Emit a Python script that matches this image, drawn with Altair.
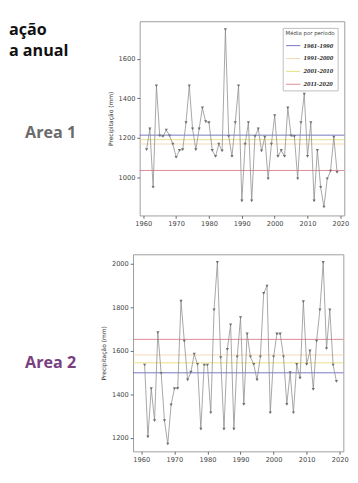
import altair as alt
import pandas as pd

years = list(range(1961, 2020))
area1 = [1140, 1245, 949, 1463, 1210, 1207, 1239, 1210, 1167, 1101,
         1136, 1140, 1276, 1463, 1245, 1140, 1245, 1351, 1281, 1276,
         1136, 1105, 1167, 1133, 1748, 1207, 1105, 1276, 1463, 880,
         1167, 1276, 880, 1207, 1245, 1133, 1203, 992, 1167, 1312,
         1105, 1136, 1105, 1351, 1210, 1207, 992, 1276, 1421, 1105,
         1276, 880, 1136, 949, 849, 992, 1031, 1203, 1024]
area2 = [1535, 1204, 1426, 1279, 1684, 1497, 1279, 1171, 1351, 1426,
         1427, 1829, 1645, 1466, 1502, 1585, 1538, 1240, 1535, 1535,
         1315, 1789, 2008, 1569, 1239, 1607, 1720, 1239, 1573, 1753,
         1354, 1678, 1573, 1538, 1466, 1573, 1865, 1899, 1315, 1573,
         1678, 1678, 1573, 1354, 1500, 1315, 1538, 1474, 1827, 1538,
         1600, 1423, 1645, 1789, 2008, 1610, 1789, 1535, 1460]
periods = ["1961-1990", "1991-2000", "2001-2010", "2011-2020"]
means1 = [1213, 1168, 1190, 1034]
means2 = [1499, 1581, 1545, 1653]
period_colors = ["#5a5ab4", "#f2cfa6", "#e4d86a", "#d8707e"]
title_lines = ["ação", "a anual"]
area_labels = ["Area 1", "Area 2"]
x_ticks = [1960, 1970, 1980, 1990, 2000, 2010, 2020]
y_ticks1 = [1000, 1200, 1400, 1600]
y_ticks2 = [1200, 1400, 1600, 1800, 2000]
y_title = "Precipitação (mm)"
legend_title = "Média por período"


def panel(values, means, xdom, ydom, yticks, w, h, legend):
    df = pd.DataFrame({"Ano": years, "P": values})
    mdf = pd.DataFrame({"Período": periods, "m": means})
    xs = alt.Scale(domain=xdom, nice=False, zero=False)
    ys = alt.Scale(domain=ydom, nice=False, zero=False)
    xax = alt.Axis(values=x_ticks, format="d", title=None)
    yax = alt.Axis(values=yticks, format="d", title=y_title)
    rules = alt.Chart(mdf).mark_rule(strokeWidth=1, opacity=0.85).encode(
        y=alt.Y("m:Q", scale=ys, axis=yax),
        color=alt.Color("Período:N", scale=alt.Scale(domain=periods, range=period_colors),
                        legend=legend),
    )
    line = alt.Chart(df).mark_line(color="#8c8c8c", strokeWidth=0.8).encode(
        x=alt.X("Ano:Q", scale=xs, axis=xax),
        y=alt.Y("P:Q", scale=ys, axis=yax),
    )
    pts = alt.Chart(df).mark_point(shape="triangle-down", filled=True, size=11,
                                   color="#707070", opacity=1).encode(
        x=alt.X("Ano:Q", scale=xs, axis=xax),
        y=alt.Y("P:Q", scale=ys, axis=yax),
    )
    return alt.layer(rules, line, pts).properties(
        width=w, height=h, view=alt.ViewBackground(stroke="#9a9a9a", strokeWidth=1))


leg = alt.Legend(orient="top-right", offset=7, title=legend_title,
                 titleFont="DejaVu Sans", titleFontSize=5.7, titleFontWeight="normal",
                 titleColor="#444", titlePadding=2,
                 labelFont="Liberation Serif", labelFontSize=7.2, labelFontStyle="italic",
                 labelFontWeight="bold", labelColor="#222", symbolType="stroke",
                 symbolSize=225, symbolStrokeWidth=1, strokeColor="#bbbbbb",
                 fillColor="white", padding=3, rowPadding=1.6, labelOffset=3)

plot1 = panel(area1, means1, [1958.9, 2021.2], [806, 1790], y_ticks1, 216, 205, leg)
plot2 = panel(area2, means2, [1957.5, 2021.1], [1137, 2045], y_ticks2, 222, 208, None)

title_df = pd.DataFrame({"t": [title_lines[0]]})
title_df2 = pd.DataFrame({"t": [title_lines[1]]})
t1 = alt.Chart(title_df).mark_text(align="left", baseline="alphabetic", font="Open Sans",
                                   fontWeight="bold", fontSize=17, color="#111").encode(
    text="t:N", x=alt.value(0), y=alt.value(15))
t2 = alt.Chart(title_df2).mark_text(align="left", baseline="alphabetic", font="Open Sans",
                                    fontWeight="bold", fontSize=17, color="#111").encode(
    text="t:N", x=alt.value(0), y=alt.value(37))
a1 = alt.Chart(pd.DataFrame({"t": [area_labels[0]]})).mark_text(
    align="center", baseline="alphabetic", font="Open Sans", fontWeight="bold",
    fontSize=17, color="#6b6b6b").encode(text="t:N", x=alt.value(44), y=alt.value(123))
a2 = alt.Chart(pd.DataFrame({"t": [area_labels[1]]})).mark_text(
    align="center", baseline="alphabetic", font="Open Sans", fontWeight="bold",
    fontSize=17, color="#7a3f7e").encode(text="t:N", x=alt.value(44), y=alt.value(120))

text1 = alt.layer(t1, t2, a1).properties(width=102, height=205,
                                          view=alt.ViewBackground(stroke="transparent"))
text2 = alt.layer(a2).properties(width=95, height=208,
                                 view=alt.ViewBackground(stroke="transparent"))

row1 = alt.hconcat(text1, plot1, spacing=0).resolve_scale(color="independent").resolve_legend(color="independent")
row2 = alt.hconcat(text2, plot2, spacing=0).resolve_scale(color="independent").resolve_legend(color="independent")

chart = alt.vconcat(row1, row2, spacing=27).resolve_scale(color="independent").resolve_legend(
    color="independent").properties(padding=0).configure_axis(
    labelFont="DejaVu Sans", labelFontSize=7, labelColor="#444",
    titleFont="DejaVu Sans", titleFontSize=6.3, titleFontWeight="normal", titleColor="#333",
    tickColor="#666", tickSize=3, labelPadding=2, titlePadding=5,
    domain=False, grid=False,
)

chart.save("out.html", embed_options={"renderer": "svg", "actions": False})
